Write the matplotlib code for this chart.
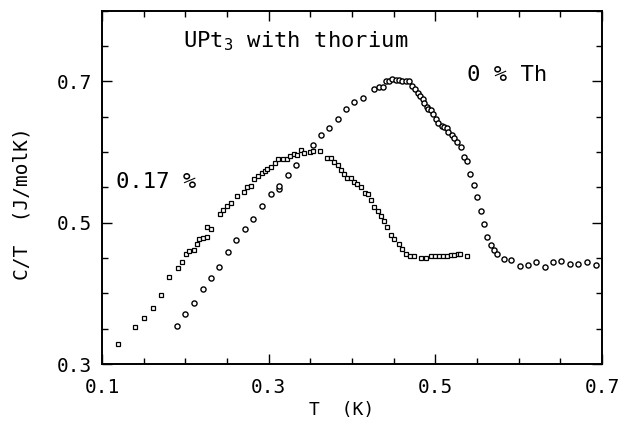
import matplotlib
matplotlib.use("Agg")
import matplotlib.pyplot as plt
from matplotlib.ticker import MultipleLocator, FixedLocator

# 0.17 % Th (squares)
T_017 = [0.1196, 0.140, 0.1508, 0.1608, 0.1712, 0.1808, 0.1908, 0.196, 0.2008, 0.2048,
         0.2104, 0.214, 0.2168, 0.2216, 0.226, 0.2264, 0.2308, 0.2416, 0.2456, 0.250,
         0.2548, 0.2616, 0.2704, 0.2736, 0.2784, 0.2824, 0.2872, 0.2924, 0.2952, 0.2976,
         0.3024, 0.3072, 0.3116, 0.3168, 0.3216, 0.3256, 0.3304, 0.334, 0.3392, 0.3424,
         0.3496, 0.3536, 0.3616, 0.3696, 0.3748, 0.3784, 0.3828, 0.3868, 0.3904, 0.3944,
         0.3984, 0.4024, 0.406, 0.4104, 0.4152, 0.4196, 0.4232, 0.4268, 0.4308, 0.4348,
         0.438, 0.442, 0.4468, 0.4508, 0.456, 0.4604, 0.4648, 0.4696, 0.4748, 0.4828,
         0.4888, 0.4948, 0.4996, 0.5048, 0.5096, 0.5136, 0.5184, 0.5224, 0.5276, 0.5296,
         0.5376]
C_017 = [0.3279, 0.3519, 0.3651, 0.3796, 0.398, 0.4235, 0.4358, 0.4438, 0.4556, 0.4603,
         0.4617, 0.4697, 0.4772, 0.4786, 0.480, 0.4938, 0.4914, 0.5122, 0.5182, 0.5239,
         0.5281, 0.538, 0.5433, 0.5504, 0.5522, 0.5617, 0.5663, 0.5697, 0.5726, 0.5754,
         0.5791, 0.5839, 0.5895, 0.5895, 0.5895, 0.5942, 0.5966, 0.5956, 0.6023, 0.598,
         0.5999, 0.6008, 0.6008, 0.5914, 0.5914, 0.5857, 0.5811, 0.574, 0.5687, 0.5635,
         0.5627, 0.5574, 0.555, 0.5504, 0.5414, 0.5405, 0.532, 0.5225, 0.516, 0.5089,
         0.5018, 0.4938, 0.4825, 0.4764, 0.4693, 0.4631, 0.456, 0.4532, 0.4523, 0.4495,
         0.4504, 0.4523, 0.4523, 0.4523, 0.4523, 0.4532, 0.4537, 0.4542, 0.4552, 0.456,
         0.4523]

# 0 % Th (circles)
T_0 = [0.1896, 0.200, 0.2104, 0.2208, 0.2308, 0.2408, 0.2508, 0.2612, 0.2712, 0.2816,
       0.292, 0.3024, 0.3124, 0.3128, 0.3228, 0.3328, 0.3528, 0.3624, 0.3728, 0.3828,
       0.3928, 0.4028, 0.4128, 0.4264, 0.4328, 0.4368, 0.4404, 0.444, 0.4484, 0.4524,
       0.4564, 0.4604, 0.4644, 0.4688, 0.4724, 0.4756, 0.4788, 0.4816, 0.4848, 0.4864,
       0.4896, 0.4916, 0.4948, 0.4976, 0.5004, 0.5036, 0.5076, 0.5108, 0.5144, 0.5156,
       0.5196, 0.5224, 0.5264, 0.5308, 0.534, 0.538, 0.542, 0.5464, 0.5504, 0.5548,
       0.5584, 0.5624, 0.5664, 0.5704, 0.5744, 0.5828, 0.5908, 0.6012, 0.6108, 0.6208,
       0.6316, 0.6408, 0.6512, 0.6616, 0.6716, 0.682, 0.6924]
C_0 = [0.3533, 0.3711, 0.3859, 0.4057, 0.4212, 0.4372, 0.458, 0.4758, 0.4909, 0.5055,
       0.5239, 0.540, 0.5471, 0.5522, 0.5669, 0.5811, 0.6098, 0.6239, 0.6334, 0.6465,
       0.6603, 0.6702, 0.6762, 0.689, 0.6914, 0.6918, 0.7003, 0.6999, 0.7031, 0.7021,
       0.7021, 0.6999, 0.7007, 0.6999, 0.6928, 0.6885, 0.6837, 0.6795, 0.6744, 0.6696,
       0.6639, 0.6603, 0.6593, 0.6536, 0.647, 0.6405, 0.6366, 0.6348, 0.6342, 0.6286,
       0.6243, 0.6192, 0.6136, 0.6065, 0.5932, 0.5871, 0.5692, 0.5528, 0.5366, 0.5164,
       0.4976, 0.4792, 0.4679, 0.4612, 0.4556, 0.4489, 0.4467, 0.439, 0.4404, 0.4438,
       0.4376, 0.4447, 0.4461, 0.441, 0.4414, 0.4438, 0.4396]

x_ticklabels = ["0.1", "0.3", "0.5", "0.7"]
y_ticklabels = ["0.3", "0.5", "0.7"]

plt.rcParams['font.family'] = ['DejaVu Sans Mono']
plt.rcParams['mathtext.fontset'] = 'custom'
plt.rcParams['mathtext.rm'] = 'DejaVu Sans Mono'
plt.rcParams['mathtext.it'] = 'DejaVu Sans Mono'

fig = plt.figure(figsize=(6.24, 4.21), dpi=100)
ax = fig.add_axes([102/624, 1 - 364/421, 500/624, (364 - 10.5)/421])

ax.plot(T_017, C_017, linestyle='none', marker='s', markersize=3.0,
        markerfacecolor='white', markeredgecolor='black', markeredgewidth=0.9)
ax.plot(T_0, C_0, linestyle='none', marker='o', markersize=3.7,
        markerfacecolor='white', markeredgecolor='black', markeredgewidth=1.0)

ax.set_xlim(0.1, 0.7)
ax.set_ylim(0.3, 0.8)

ax.xaxis.set_major_locator(FixedLocator([float(s) for s in x_ticklabels]))
ax.set_xticklabels(x_ticklabels)
ax.yaxis.set_major_locator(FixedLocator([float(s) for s in y_ticklabels]))
ax.set_yticklabels(y_ticklabels)
ax.xaxis.set_minor_locator(MultipleLocator(0.05))
ax.yaxis.set_minor_locator(MultipleLocator(0.05))

ax.tick_params(which='both', direction='in', top=True, right=True, width=1.0,
               labelsize=14)
ax.tick_params(which='major', length=7.5)
ax.tick_params(which='minor', length=4.5)
ax.tick_params(axis='x', pad=10)
ax.tick_params(axis='y', pad=7)

for sp in ax.spines.values():
    sp.set_linewidth(1.4)

ax.set_xlabel("T  (K)", fontsize=13)
ax.xaxis.set_label_coords(0.48, -0.105)
ax.set_ylabel("C/T  (J/molK)", fontsize=14)
ax.yaxis.set_label_coords(-0.14, 0.453)

ax.text(0.197, 0.756, r"UPt$_3$ with thorium", fontsize=16, ha='left', va='center')
ax.text(0.538, 0.709, "0 % Th", fontsize=16, ha='left', va='center')
ax.text(0.117, 0.557, "0.17 %", fontsize=16, ha='left', va='center')

fig.savefig("out.png", dpi=100)
